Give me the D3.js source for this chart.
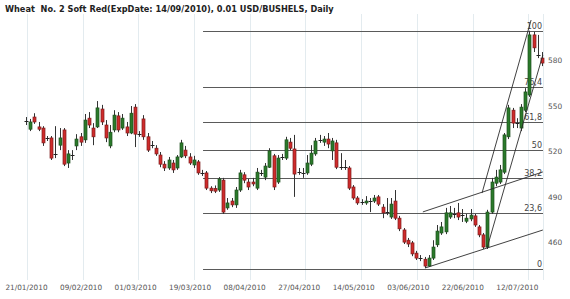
<!DOCTYPE html>
<html>
<head>
<meta charset="utf-8">
<script src="https://cdn.jsdelivr.net/npm/d3@7"></script>
<style>
  body { margin: 0; background: #fff; }
  svg { display: block; }
</style>
</head>
<body>
<svg id="chart" width="570" height="299"></svg>
<script>
// candle data, one entry per trading day (0.01 USD/bushel)
const opens = [540,534.5,542.5,536,535.25,528.75,528.75,518.25,524,534,512.25,517.5,523.5,529.5,527.5,541.75,535.25,536,547.75,537.25,
  523.5,534,543.25,535.25,536,532,549,531.25,541.25,529.5,524,522,517.5,511.5,509,512.25,509,516.25,520.75,516.25,
  511,513,505.75,505.75,495.75,495.5,494.5,501,482.75,487.25,484.75,494.5,504.5,499.75,499.75,495.75,505.5,503,509.5,517,
  499.75,516.25,515.5,526,521.5,506.25,505.75,505.75,511.5,518.25,527.25,526,528,520.25,525.5,509.5,509.75,509,496.5,489.25,
  486.5,486,487.25,487.25,490,483.25,480,476.75,487.25,476,468.25,461.5,459.75,453,449.75,449,444.5,449.75,458.5,466.25,
  467,476.75,478.75,479.5,478,474,475.5,477.5,470.25,465,457,480,499,499.75,506.25,529.5,547,538.5,535.25,547,
  557,596.5,583.25,581.25];
const highs = [542.5,541.25,545,539.25,536.5,530,530,536.5,535.25,535.25,520.75,520.75,531.25,532,544.5,545.75,538.5,553,550.5,540.5,
  537.25,547,545.75,544.5,539.25,549.75,551,533.25,543.75,532,526.75,524,519.5,513.5,516.25,514.25,517.5,527.5,523.5,518.75,
  517,514.25,507.75,507,497,497.5,503,502.5,489.25,489.25,496.5,507.75,506.25,501.75,502.5,509,507.75,512.25,522,518.25,
  517.5,518.25,529.5,528.75,530.75,509,509,517.5,524,528.75,530.75,530,532,528.75,527.5,518.75,514.25,510.25,497.75,490.5,
  488.5,490.5,489.25,491.25,491.25,485.25,489.25,489.25,494.5,477.5,469.5,463,461,454.5,451.75,450.5,451.75,461.5,471.5,473.5,
  482.75,484,482.75,486,482,478.75,482,478.75,471.5,466.25,481.5,502.5,507.75,511,532,550.5,548.5,541.75,551,561.5,
  599.25,598.5,596.5,585.25];
const lows = [537.25,533.25,538,533.25,523.5,526.75,514.25,515.5,520.75,510.25,509,514.25,520.75,523.5,525.5,535.25,524,535.25,537.25,526,
  522,532.5,532.5,534,530,531.25,522.75,529.5,527.5,519.5,522,517,509.5,507,507.75,505.75,507.75,515.5,515.5,511,
  509,504.5,503.75,494.5,492.5,492.5,493.25,478.75,481.5,483.25,482.75,493.25,499,494.5,497,494.5,503.75,501,509,494.5,
  498.5,514.25,514.25,520.75,490,504.5,502.5,504.5,510.25,517,525.5,523.5,522,514.25,508.25,507.75,507.75,494.5,488,484.75,
  484.75,484.75,480,486,484,476,478,475.5,474.75,467.5,459,457,451,448.5,447.75,443.25,444,448.5,457,465,
  465.5,475.5,476,474.75,473.5,472.75,474,470.25,463.5,455.75,455.75,478.75,497,498.5,505,528,535.25,535.25,533.25,545.75,
  555.75,585.25,581.25,576];
const closes = [540.5,539.25,539.25,534.5,525.5,528.5,515.5,518.5,528.75,511.5,518.25,517.75,528,526,540.5,537.25,529.5,548.5,539.25,528.75,
  532.5,543.75,534,541.75,532,545,531.25,531,529.5,520.75,524.25,518.25,511.5,509,514.25,507.75,516.25,525.5,517,512.25,
  514.25,505.75,505.5,495.75,494,493.75,501.75,480,486,484.75,494.5,505.75,501,496.5,498.5,506.25,505.75,510.25,520.25,496.5,
  515.5,516,527.5,522,505,506.5,505.5,512.25,518.75,526.75,527.5,528,524.75,526.75,509.5,509.75,509.5,495.75,489.25,486,
  486.75,487.25,487.5,489.25,485.25,479.5,480.25,485.25,476,469,460.25,459,452.5,449.75,449.5,444.5,449.75,457,467.5,470.25,
  479.5,479.5,478.5,476.75,478.25,476,478,471.5,465,457,480,499.75,503,507.75,530.75,548.5,538.5,538.75,549,559,
  596.5,588,583,578];

// x axis: date labels sit on every 13th candle, grid lines on their own spacing
const dateLabels = ['21/01/2010','09/02/2010','01/03/2010','19/03/2010','08/04/2010',
  '27/04/2010','14/05/2010','03/06/2010','22/06/2010','12/07/2010'];
const labelIdx = [0,13,26,39,52,65,78,91,104,117];
const gridIdx = [0.2,13.5,26.7,40,53.3,66.6,79.9,93.2,106.5,119.7];

const priceTicks = [460,490,520,550,580];

// fibonacci retracement between the June low and the July high
const fibLevels = [0,23.6,38.2,50,61.8,76.4,100];
const fibLow = 442.75;
const fibHigh = 599.25;
const fibStartIdx = 42.2;

// hand drawn trend lines: [[idx, price], [idx, price]]
const trendLines = [
  [[94.6,480.1],[123.2,506.4]],
  [[95.1,443.2],[123.2,468.2]],
  [[108.7,492.5],[120.4,606.3]],
  [[109.9,456.4],[123.2,583.3]]
];

const svg = d3.select('#chart');
const plot = { left: 0, right: 543, top: 14, bottom: 280 };

const x = d3.scaleLinear().domain([0, 123]).range([26, 542]);
const y = d3.scaleLinear().domain([460, 580]).range([242.5, 60]);

const FONT = '"DejaVu Sans", Verdana, sans-serif';

// title
svg.append('text')
    .attr('x', 5)
    .attr('y', 12)
    .attr('font-family', FONT)
    .attr('font-size', 8.2)
    .attr('font-weight', 'bold')
    .attr('fill', '#222')
    .style('white-space', 'pre')
    .text('Wheat  No. 2 Soft Red(ExpDate: 14/09/2010), 0.01 USD/BUSHELS, Daily');

// vertical grid
svg.append('g')
    .selectAll('line')
    .data(gridIdx)
    .join('line')
    .attr('x1', d => Math.round(x(d)) + 0.5)
    .attr('x2', d => Math.round(x(d)) + 0.5)
    .attr('y1', plot.top)
    .attr('y2', plot.bottom)
    .attr('stroke', '#e3ebef')
    .attr('stroke-width', 1);

svg.append('line')
    .attr('x1', plot.right + 0.5)
    .attr('x2', plot.right + 0.5)
    .attr('y1', plot.top)
    .attr('y2', plot.bottom)
    .attr('stroke', '#e3ebef');

// fibonacci levels
const fibG = svg.append('g');
fibLevels.forEach(lv => {
    const price = fibLow + (fibHigh - fibLow) * lv / 100;
    const yy = Math.round(y(price)) + 0.5;
    fibG.append('line')
        .attr('x1', x(fibStartIdx))
        .attr('x2', plot.right)
        .attr('y1', yy)
        .attr('y2', yy)
        .attr('stroke', '#5a5a5a')
        .attr('stroke-width', 1);
});

// candles
const candles = svg.append('g');
const bodyW = 3;
d3.range(opens.length).forEach(i => {
    const cx = Math.round(x(i)) + 0.5;
    const o = opens[i], c = closes[i];
    const up = c >= o;
    const doji = Math.abs(c - o) < 0.6;
    candles.append('line')
        .attr('x1', cx).attr('x2', cx)
        .attr('y1', y(highs[i]))
        .attr('y2', y(lows[i]))
        .attr('stroke', '#333')
        .attr('stroke-width', 1);
    if (doji) {
        const yy = Math.round(y(o)) + 0.5;
        candles.append('line')
            .attr('x1', cx - 2).attr('x2', cx + 2)
            .attr('y1', yy).attr('y2', yy)
            .attr('stroke', '#222');
        return;
    }
    const top = y(Math.max(o, c));
    const bot = y(Math.min(o, c));
    candles.append('rect')
        .attr('x', cx - bodyW / 2)
        .attr('y', top)
        .attr('width', bodyW)
        .attr('height', Math.max(1, bot - top))
        .attr('fill', up ? '#2a7a2a' : '#cf2b2b')
        .attr('stroke', up ? '#1d4f1d' : '#7d1c1c')
        .attr('stroke-width', 0.7);
});

// trend lines
svg.append('g')
    .selectAll('line')
    .data(trendLines)
    .join('line')
    .attr('x1', d => x(d[0][0]))
    .attr('y1', d => y(d[0][1]))
    .attr('x2', d => x(d[1][0]))
    .attr('y2', d => y(d[1][1]))
    .attr('stroke', '#2b2b2b')
    .attr('stroke-width', 0.9);

// fib labels
fibLevels.forEach(lv => {
    const price = fibLow + (fibHigh - fibLow) * lv / 100;
    fibG.append('text')
        .attr('x', plot.right - 1)
        .attr('y', y(price) - 2)
        .attr('text-anchor', 'end')
        .attr('font-family', FONT)
        .attr('font-size', 8)
        .attr('fill', '#444')
        .text(String(lv).replace('.', ','));
});

// right price axis
const yAxis = d3.axisRight(y)
    .tickValues(priceTicks)
    .tickSize(0)
    .tickPadding(5)
    .tickFormat(d3.format('d'));
svg.append('g')
    .attr('transform', `translate(${plot.right},0)`)
    .call(yAxis)
    .call(g => g.select('.domain').remove())
    .selectAll('text')
    .attr('font-family', FONT)
    .attr('font-size', 7.4)
    .attr('fill', '#555');

// bottom date axis
const xAxis = d3.axisBottom(x)
    .tickValues(labelIdx)
    .tickSize(0)
    .tickPadding(0)
    .tickFormat((d, i) => dateLabels[i]);
svg.append('g')
    .attr('transform', `translate(0,${plot.bottom + 5})`)
    .call(xAxis)
    .call(g => g.select('.domain').remove())
    .selectAll('text')
    .attr('font-family', FONT)
    .attr('font-size', 7.3)
    .attr('fill', '#555');
</script>
</body>
</html>
